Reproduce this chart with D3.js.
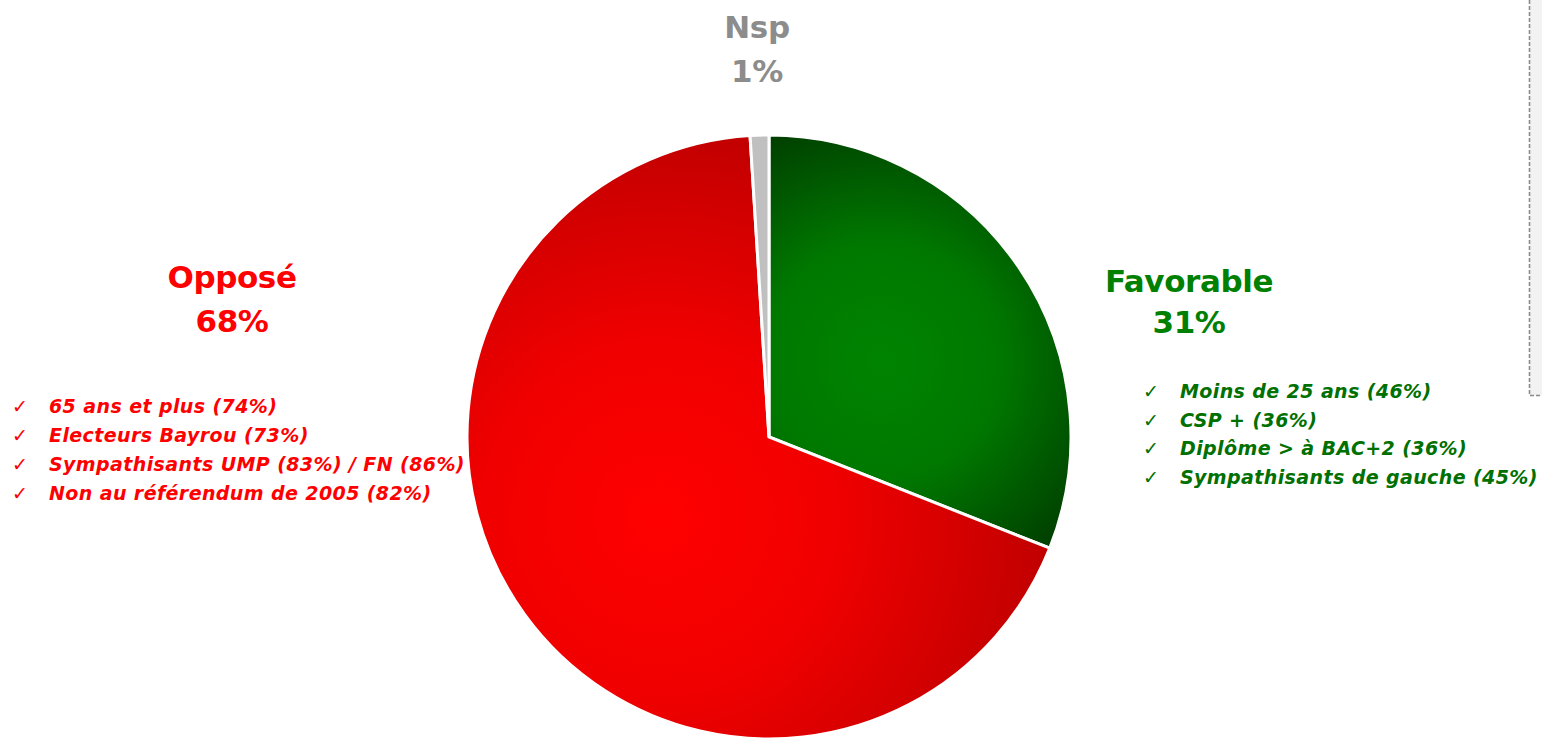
<!DOCTYPE html>
<html><head><meta charset="utf-8">
<script src="https://cdn.jsdelivr.net/npm/d3@7"></script>
<style>
html,body{margin:0;padding:0;background:#fff;overflow:hidden}
svg{display:block}
</style></head>
<body>
<svg id="chart" width="1542" height="739"></svg>
<script>
// ---- data ----
const categories = ["Favorable", "Opposé", "Nsp"];
const values = [31, 68, 1];
const valueLabels = ["31%", "68%", "1%"];
const favorableDetails = ["Moins de 25 ans (46%)", "CSP + (36%)", "Diplôme > à BAC+2 (36%)", "Sympathisants de gauche (45%)"];
const opposeDetails = ["65 ans et plus (74%)", "Electeurs Bayrou (73%)", "Sympathisants UMP (83%) / FN (86%)", "Non au référendum de 2005 (82%)"];

// ---- styles ----
const cx = 769, cy = 437, R = 302;
const sliceStyles = [
  {bright: "#008400", mid: "#007800", dark: "#003a00", gr: 262, text: "#008000", detail: "#007000"},
  {bright: "#ff0000", mid: "#f00000", dark: "#c00000", gr: 395, text: "#ff0000", detail: "#ff0000"},
  {bright: "#c0c0c0", mid: "#c0c0c0", dark: "#c0c0c0", gr: 100, text: "#8c8c8c", detail: "#8c8c8c"}
];
const font = "'DejaVu Sans', Verdana, sans-serif";

const svg = d3.select("#chart");

// dashed panel on the right
svg.append("rect").attr("x", 1529.5).attr("y", -5).attr("width", 30).attr("height", 400.5)
  .attr("fill", "#f2f2f2").attr("stroke", "#8a8a8a").attr("stroke-width", 1.6)
  .attr("stroke-dasharray", "4,2");

const pie = d3.pie().sort(null).value(d => d.value);
const data = categories.map((c, i) => ({name: c, value: values[i], label: valueLabels[i], style: sliceStyles[i]}));
const arcs = pie(data);
const arc = d3.arc().innerRadius(0).outerRadius(R);

// gradients in the pie group's local coordinates
const defs = svg.append("defs");
arcs.forEach((a, i) => {
  const mid = (a.startAngle + a.endAngle) / 2;
  const g = defs.append("radialGradient").attr("id", "grad" + i)
    .attr("gradientUnits", "userSpaceOnUse")
    .attr("cx", Math.sin(mid) * R * 0.45).attr("cy", -Math.cos(mid) * R * 0.45)
    .attr("r", a.data.style.gr);
  g.append("stop").attr("offset", 0).attr("stop-color", a.data.style.bright);
  g.append("stop").attr("offset", 0.45).attr("stop-color", a.data.style.mid);
  g.append("stop").attr("offset", 1).attr("stop-color", a.data.style.dark);
});

const gPie = svg.append("g").attr("transform", `translate(${cx},${cy})`);
gPie.selectAll("path").data(arcs).join("path")
  .attr("d", arc)
  .attr("fill", (d, i) => `url(#grad${i})`)
  .attr("stroke", "#fff").attr("stroke-width", 3);

// ---- labels ----
function title(x, y1, y2, t1, t2, color) {
  const t = svg.append("text").attr("text-anchor", "middle")
    .attr("font-family", font).attr("font-weight", "bold").attr("font-size", 31)
    .attr("letter-spacing", -0.4).attr("fill", color);
  t.append("tspan").attr("x", x).attr("y", y1).text(t1);
  t.append("tspan").attr("x", x).attr("y", y2).text(t2);
}
title(1189, 292, 333, categories[0], valueLabels[0], sliceStyles[0].text);
title(232, 288, 332, categories[1], valueLabels[1], sliceStyles[1].text);
title(757, 38, 82, categories[2], valueLabels[2], sliceStyles[2].text);

function details(list, xCheck, xText, y0, dy, color) {
  const g = svg.append("g");
  list.forEach((s, i) => {
    g.append("text").attr("x", xCheck).attr("y", y0 + i * dy)
      .attr("font-family", font).attr("font-size", 19).attr("fill", color).text("✓");
    g.append("text").attr("x", xText).attr("y", y0 + i * dy)
      .attr("font-family", font).attr("font-weight", "bold").attr("font-style", "italic")
      .attr("font-size", 19).attr("letter-spacing", 0.4).attr("fill", color).text(s);
  });
}
details(opposeDetails, 12, 49, 413, 29, sliceStyles[1].detail);
details(favorableDetails, 1143, 1180, 398, 28.5, sliceStyles[0].detail);
</script>
</body></html>
